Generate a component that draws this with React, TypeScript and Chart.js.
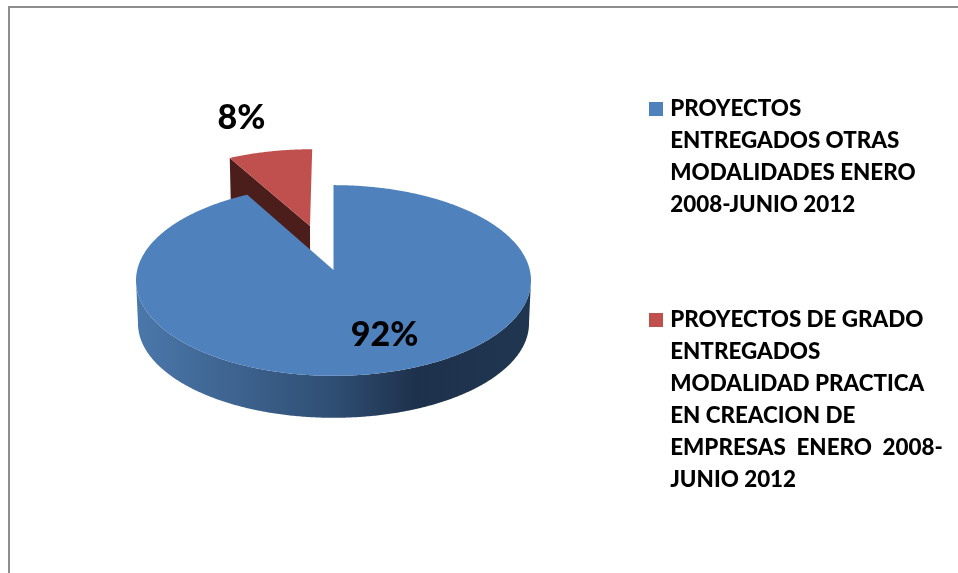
import React, { useEffect, useRef } from "react";
import { Chart, registerables } from "chart.js";

Chart.register(...registerables);

const categories = [
  ["PROYECTOS", "ENTREGADOS OTRAS", "MODALIDADES ENERO", "2008-JUNIO 2012"],
  ["PROYECTOS DE GRADO", "ENTREGADOS", "MODALIDAD PRACTICA", "EN CREACION DE", "EMPRESAS  ENERO  2008-", "JUNIO 2012"],
];
const values = [92, 8];
const faceColors = ["#4F81BD", "#C0504D"];
const wallColors = ["#203650", "#4B1E1C"];
const explode = [0, 0.508];

const TILT = 0.48;
const PERSP = 0.11;
const DEPTH = 0.219;
const RAD = Math.PI / 180;

type Pt = [number, number];

const project = (el: any, u: number, v: number, drop = 0, shrink = 1): Pt => {
  const R = el.outerRadius;
  const d = 1 - PERSP * v;
  return [el.x + (R * u * shrink) / d, el.y + (R * TILT * v * shrink) / d + drop * R * DEPTH];
};

const trace = (ctx: CanvasRenderingContext2D, pts: Pt[]) => {
  ctx.beginPath();
  pts.forEach((p, i) => (i ? ctx.lineTo(p[0], p[1]) : ctx.moveTo(p[0], p[1])));
  ctx.closePath();
};

const pie3d = {
  id: "pie3d",
  beforeDraw(chart: any) {
    const { ctx, width, height } = chart;
    ctx.save();
    ctx.fillStyle = "#fff";
    ctx.fillRect(0, 0, width, height);
    ctx.fillStyle = "#8E8E8E";
    ctx.fillRect(8, 6, width - 8, 2);
    ctx.fillRect(8, 6, 2, height - 6);
    ctx.restore();
  },
  afterLayout(chart: any) {
    const lg = chart.legend;
    const pad = lg.options.labels.padding;
    lg.left = 649 - pad;
    lg.right = chart.width;
    lg.top = 98 - pad;
    lg.bottom = chart.height + 200;
  },
  beforeDatasetsDraw(chart: any) {
    const { ctx } = chart;
    const arcs = chart.getDatasetMeta(0).data;
    for (let i = arcs.length - 1; i >= 0; i--) {
      const el = arcs[i];
      const s = el.startAngle;
      const e = el.endAngle;
      const mid = (s + e) / 2;
      const ox = Math.cos(mid) * explode[i];
      const oy = Math.sin(mid) * explode[i];
      const outline = (drop: number, shrink: number): Pt[] => {
        const pts: Pt[] = [project(el, ox, oy, drop, shrink)];
        for (let a = s; a < e; a += RAD / 2) pts.push(project(el, ox + Math.cos(a), oy + Math.sin(a), drop, shrink));
        pts.push(project(el, ox + Math.cos(e), oy + Math.sin(e), drop, shrink));
        return pts;
      };
      const top = outline(0, 1);
      const bot = outline(1, 0.99);

      ctx.save();
      // radial walls that face the viewer
      ctx.fillStyle = wallColors[i];
      const last = top.length - 1;
      const facing = (p: Pt, sign: number) => {
        const dx = p[0] - top[0][0];
        const dy = p[1] - top[0][1];
        return (sign * dx) / Math.hypot(dx, dy) < -0.2;
      };
      if (facing(top[1], 1)) {
        trace(ctx, [top[0], top[1], bot[1], bot[0]]);
        ctx.fill();
      }
      if (facing(top[last], -1)) {
        trace(ctx, [top[0], top[last], bot[last], bot[0]]);
        ctx.fill();
      }

      // outer wall, front half only
      const a0 = Math.max(s, 6 * RAD);
      const a1 = Math.min(e, 174 * RAD);
      if (a1 > a0) {
        const front: Pt[] = [];
        for (let a = a0; a <= a1; a += RAD / 2) front.push(project(el, ox + Math.cos(a), oy + Math.sin(a)));
        for (let a = a1; a >= a0; a -= RAD / 2) front.push(project(el, ox + Math.cos(a), oy + Math.sin(a), 1, 0.99));
        const left = el.x - el.outerRadius;
        const w = el.outerRadius * 2;
        const g = ctx.createLinearGradient(left, 0, left + w, 0);
        g.addColorStop(0, "#4A77AA");
        g.addColorStop(0.24, "#3E6490");
        g.addColorStop(0.5, "#2F4E73");
        g.addColorStop(0.71, "#1E314C");
        g.addColorStop(1, "#203650");
        ctx.fillStyle = g;
        trace(ctx, front);
        ctx.fill();
      }

      // top face
      ctx.fillStyle = faceColors[i];
      trace(ctx, top);
      ctx.fill();
      ctx.restore();
    }
    return false;
  },
  afterDraw(chart: any) {
    const { ctx, legend } = chart;
    const el = chart.getDatasetMeta(0).data[0];
    const total = values.reduce((a, b) => a + b, 0);
    const anchors = [[51, 65], [-92, -152]];
    ctx.save();
    ctx.font = "900 34px Lato";
    ctx.fillStyle = "#000";
    ctx.textAlign = "center";
    ctx.textBaseline = "middle";
    values.forEach((v, i) => {
      ctx.fillText(`${Math.round((v / total) * 100)}%`, el.x + anchors[i][0], el.y + anchors[i][1]);
    });

    const lab = legend.options.labels;
    const lh = 32;
    let y = legend.top + lab.padding;
    categories.forEach((c, i) => {
      ctx.fillStyle = faceColors[i];
      ctx.fillRect(legend.left + lab.padding, y + 4, 14, 14);
      y += c.length * lh + lab.padding;
    });
    ctx.restore();
  },
};

export default function App() {
  const ref = useRef<HTMLCanvasElement>(null);
  useEffect(() => {
    document.body.style.margin = "0";
    const chart = new Chart(ref.current!, {
      type: "pie",
      data: {
        labels: categories as any,
        datasets: [{ data: values, backgroundColor: faceColors, borderWidth: 0 }],
      },
      options: {
        responsive: false,
        animation: false,
        devicePixelRatio: 1,
        layout: { padding: { left: 137.2, right: 428.2, top: 73.7, bottom: 106.7 } },
        plugins: {
          tooltip: { enabled: false },
          legend: {
            position: "chartArea" as any,
            align: "start",
            labels: {
              padding: 83,
              boxWidth: 10,
              boxHeight: 10,
              color: "#000",
              font: { family: "Lato", weight: "900", size: 22.4, lineHeight: 32 / 22.4 },
              generateLabels: () =>
                categories.map((c, i) => ({
                  text: c as any,
                  fillStyle: "rgba(0,0,0,0)",
                  strokeStyle: "rgba(0,0,0,0)",
                  lineWidth: 0,
                  hidden: false,
                  index: i,
                })),
            },
          },
        },
      },
      plugins: [pie3d],
    });
    return () => chart.destroy();
  }, []);
  return <canvas ref={ref} width={958} height={573} style={{ display: "block" }} />;
}
